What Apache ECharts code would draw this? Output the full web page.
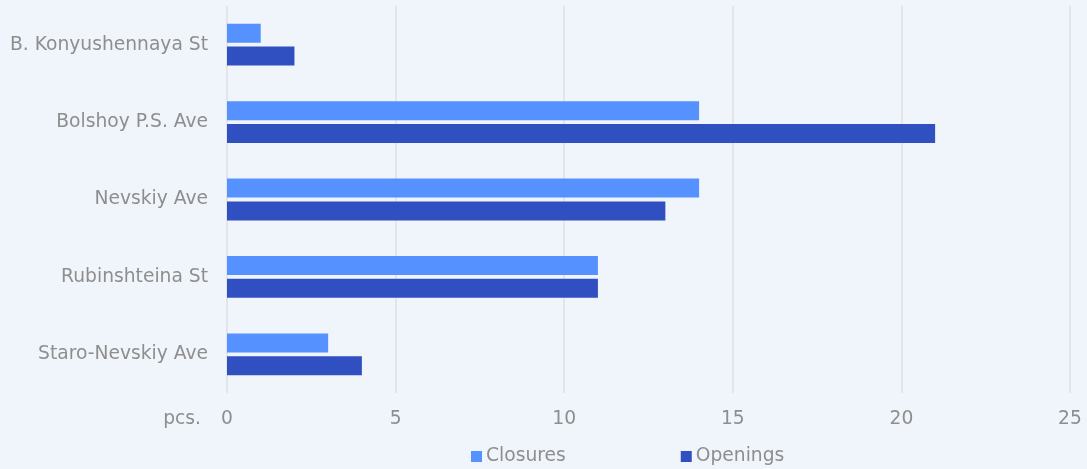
<!DOCTYPE html>
<html><head><meta charset="utf-8">
<script src="https://cdn.jsdelivr.net/npm/echarts@6/dist/echarts.min.js"></script>
<style>html,body{margin:0;padding:0;background:#f0f4fb;}#c{width:1087px;height:469px;}</style>
</head><body><div id="c"></div>
<script>
const categories = ['B. Konyushennaya St', 'Bolshoy P.S. Ave', 'Nevskiy Ave', 'Rubinshteina St', 'Staro-Nevskiy Ave'];
const closures = [1, 14, 14, 11, 3];
const openings = [2, 21, 13, 11, 4];
const chart = echarts.init(document.getElementById('c'));
const font = "'DejaVu Sans', Verdana, sans-serif";
const txt = {color: '#8e8e8e', fontSize: 18.7, fontFamily: font};
chart.setOption({
  backgroundColor: '#f0f4fb',
  textStyle: {fontFamily: font},
  animation: false,
  grid: {left: 227, right: 17, top: 6, bottom: 76},
  legend: {
    top: 442, left: 466, itemWidth: 11, itemHeight: 11, itemGap: 115,
    icon: 'rect', itemStyle: {borderWidth: 0},
    textStyle: Object.assign({}, txt, {padding: [0, 0, 0, -1]}),
    data: ['Closures', 'Openings']
  },
  xAxis: {
    type: 'value', min: 0, max: 25, interval: 5,
    name: 'pcs.', nameLocation: 'start', nameGap: 26,
    nameTextStyle: Object.assign({}, txt, {verticalAlign: 'top', padding: [17, 0, 0, 0]}),
    axisLine: {show: false}, axisTick: {show: false},
    axisLabel: Object.assign({}, txt, {margin: 17}),
    splitLine: {lineStyle: {color: '#dfe1e6', width: 1.5}}
  },
  yAxis: {
    type: 'category', data: categories, inverse: true,
    axisLine: {show: false}, axisTick: {show: false},
    axisLabel: Object.assign({}, txt, {margin: 19})
  },
  series: [
    {name: 'Closures', type: 'bar', data: closures, barWidth: 19, barGap: '20%',
     itemStyle: {color: '#5591ff'}},
    {name: 'Openings', type: 'bar', data: openings, barWidth: 19,
     itemStyle: {color: '#3050c2'}}
  ]
});
</script></body></html>
